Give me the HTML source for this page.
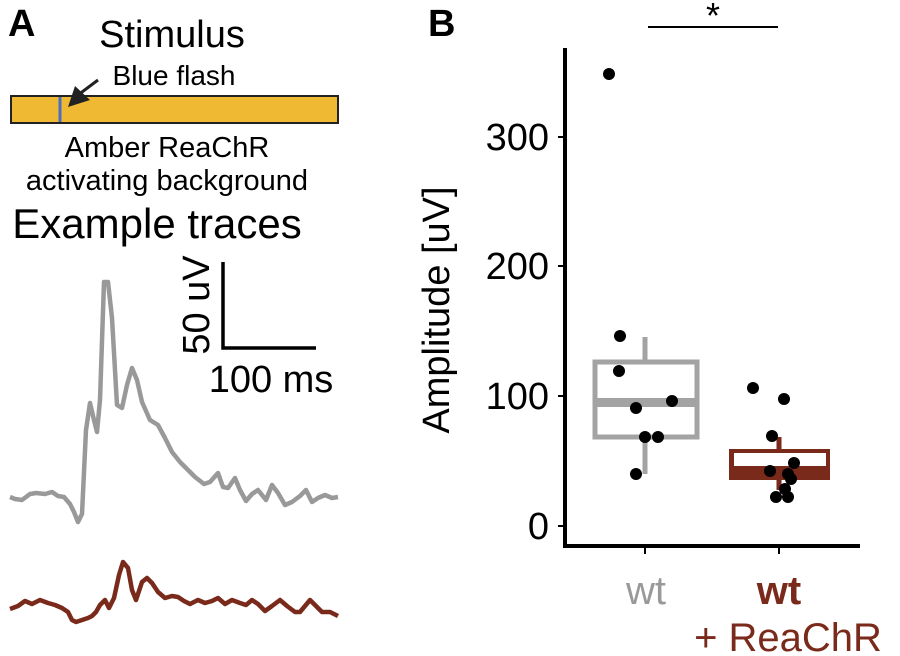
<!DOCTYPE html>
<html><head><style>
html,body{margin:0;padding:0;background:#fff;}
svg{display:block;font-family:"Liberation Sans",sans-serif;}
</style></head><body>
<svg width="900" height="656" viewBox="0 0 900 656" xmlns="http://www.w3.org/2000/svg">
<text x="8" y="36" font-size="38" font-weight="bold">A</text>
<text x="172" y="47" font-size="38" text-anchor="middle">Stimulus</text>
<text x="174" y="85" font-size="28" text-anchor="middle">Blue flash</text>
<rect x="11" y="96" width="327" height="27" fill="#f0b933" stroke="#222" stroke-width="2"/>
<line x1="60" y1="97" x2="60" y2="122" stroke="#4a6fc0" stroke-width="3"/>
<line x1="98" y1="80" x2="78" y2="95" stroke="#222" stroke-width="3"/>
<polygon points="68,107 90,100 75,86" fill="#222"/>
<text x="167" y="157" font-size="29" text-anchor="middle">Amber ReaChR</text>
<text x="167" y="190" font-size="29" text-anchor="middle">activating background</text>
<text x="157" y="238" font-size="42" text-anchor="middle">Example traces</text>
<path d="M223,262 V348 H316" fill="none" stroke="#000" stroke-width="3.5"/>
<text x="209" y="305" font-size="38" text-anchor="middle" transform="rotate(-90 209 305)">50 uV</text>
<text x="271" y="392" font-size="38" text-anchor="middle">100 ms</text>
<polyline fill="none" stroke="#999" stroke-width="4.5" stroke-linejoin="round" points="10,497 15,499 22,500 30,494 36,493 45,494 52,492 58,496 64,497 70,504 74,512 78,522 82,514 86,430 90,403 94,420 97,432 100,400 104,282 108,282 112,318 117,405 122,408 127,385 132,368 137,380 142,402 150,420 158,425 165,438 172,452 180,462 188,470 195,477 204,484 210,482 218,473 223,487 228,488 235,478 240,490 246,501 252,494 258,490 266,500 272,485 278,493 285,505 292,502 300,496 306,490 312,502 318,498 325,495 332,498 338,497"/>
<polyline fill="none" stroke="#7a2a1a" stroke-width="4.5" stroke-linejoin="round" points="10,609 18,606 25,601 32,604 40,600 48,603 55,605 62,608 68,612 72,620 76,622 82,620 88,618 92,616 96,612 100,605 105,600 109,608 114,598 119,575 123,562 128,568 132,590 136,600 142,582 147,578 152,583 158,592 165,598 172,596 178,597 184,601 190,604 198,600 205,603 212,601 218,598 225,604 232,600 240,603 246,605 252,600 258,604 265,611 272,606 280,600 287,606 295,612 300,612 305,606 310,600 316,606 322,612 330,612 338,616"/>
<text x="428" y="36" font-size="38" font-weight="bold">B</text>
<line x1="648" y1="27" x2="778" y2="27" stroke="#000" stroke-width="2"/>
<text x="713" y="28" font-size="36" text-anchor="middle">*</text>
<path d="M565,48 V546 H860" fill="none" stroke="#000" stroke-width="4"/>
<g stroke="#000" stroke-width="2"><line x1="558" y1="526" x2="565" y2="526"/><line x1="558" y1="396" x2="565" y2="396"/><line x1="558" y1="266" x2="565" y2="266"/><line x1="558" y1="137" x2="565" y2="137"/><line x1="645" y1="546" x2="645" y2="554"/><line x1="779" y1="546" x2="779" y2="554"/></g>
<g font-size="38" text-anchor="end"><text x="549" y="539">0</text><text x="549" y="409">100</text><text x="549" y="279">200</text><text x="549" y="150">300</text></g>
<text x="449" y="310" font-size="38" text-anchor="middle" transform="rotate(-90 449 310)">Amplitude [uV]</text>
<text x="646" y="604" font-size="40" text-anchor="middle" fill="#999">wt</text>
<text x="779" y="604" font-size="40" text-anchor="middle" fill="#7a2a1a" font-weight="bold">wt</text>
<text x="788" y="651" font-size="40" text-anchor="middle" fill="#7a2a1a">+ ReaChR</text>
<line x1="645" y1="337" x2="645" y2="474" stroke="#a3a3a3" stroke-width="5"/>
<rect x="595" y="362" width="102" height="75" fill="#fff" stroke="#a3a3a3" stroke-width="5"/>
<rect x="595" y="398" width="102" height="9" fill="#a3a3a3"/>
<line x1="779" y1="437" x2="779" y2="490" stroke="#7a2a1a" stroke-width="5"/>
<rect x="729" y="449" width="101" height="31" fill="#7a2a1a"/>
<rect x="734" y="453" width="92" height="13" fill="#fff"/>
<g fill="#000">
<circle cx="609" cy="74" r="6"/><circle cx="620" cy="336" r="6"/><circle cx="619" cy="371" r="6"/><circle cx="636" cy="408" r="6"/><circle cx="672" cy="401" r="6"/><circle cx="645" cy="437" r="6"/><circle cx="658" cy="437" r="6"/><circle cx="636" cy="474" r="6"/>
<circle cx="753" cy="388" r="6"/><circle cx="784" cy="399" r="6"/><circle cx="772" cy="436" r="6"/><circle cx="770" cy="471" r="6"/><circle cx="794" cy="463" r="6"/><circle cx="788" cy="474" r="6"/><circle cx="791" cy="479" r="6"/><circle cx="785" cy="489" r="6"/><circle cx="788" cy="497" r="6"/><circle cx="776" cy="497" r="6"/>
</g>
</svg>
</body></html>
